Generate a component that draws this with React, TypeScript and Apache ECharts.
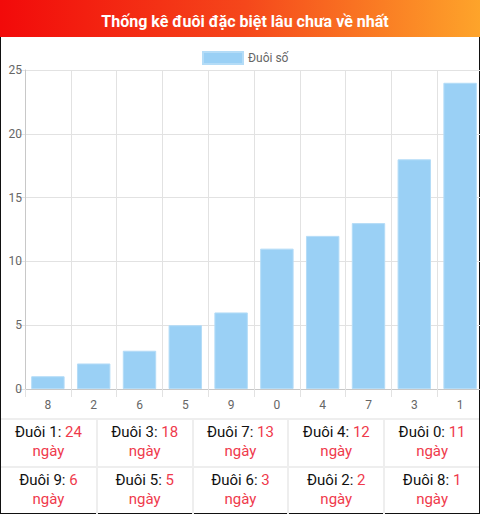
import { useEffect, useRef } from 'react';
import * as echarts from 'echarts';

const TITLE = 'Thống kê đuôi đặc biệt lâu chưa về nhất';
const SERIES_NAME = 'Đuôi số';
const tails = ['8', '2', '6', '5', '9', '0', '4', '7', '3', '1'];
const days = [1, 2, 3, 5, 6, 11, 12, 13, 18, 24];
const yTicks = [0, 5, 10, 15, 20, 25];

const FONT = 'Roboto, "Noto Sans", sans-serif';
const RED = '#ef3a4c';

export default function App() {
  const chartRef = useRef<HTMLDivElement | null>(null);

  useEffect(() => {
    document.body.style.margin = '0';
    if (!chartRef.current) return;
    const chart = echarts.init(chartRef.current, null, { renderer: 'svg' });

    chart.setOption({
      animation: false,
      textStyle: { fontFamily: FONT },
      graphic: [
        {
          type: 'rect',
          z: 0,
          shape: { x: 0, y: 0, width: 490, height: 37 },
          style: {
            fill: new echarts.graphic.LinearGradient(0, 0, 1, 0, [
              { offset: 0, color: '#f20a0a' },
              { offset: 0.5, color: '#f5471b' },
              { offset: 1, color: '#fea82b' },
            ]),
          },
        },
      ],
      title: {
        text: TITLE,
        left: 240,
        top: 8,
        textAlign: 'center',
        textStyle: { color: '#fff', fontSize: 16, fontWeight: 'bold', fontFamily: FONT },
      },
      legend: {
        top: 46,
        left: 197,
        icon: 'rect',
        itemWidth: 40,
        itemHeight: 12,
        textStyle: { color: '#666', fontSize: 12, fontFamily: FONT },
        data: [SERIES_NAME],
      },
      grid: { left: 25, right: 7, top: 70, bottom: 29 },
      xAxis: {
        type: 'category',
        data: tails,
        axisLine: { lineStyle: { color: '#c8c8c8' } },
        axisTick: { show: true, length: 8, lineStyle: { color: '#e2e2e2' } },
        axisLabel: { color: '#666', fontSize: 12, margin: 10, fontFamily: FONT },
        splitLine: { show: true, lineStyle: { color: '#e2e2e2' } },
      },
      yAxis: {
        type: 'value',
        min: yTicks[0],
        max: yTicks[yTicks.length - 1],
        interval: 5,
        axisLine: { show: true, lineStyle: { color: '#c8c8c8' } },
        axisTick: { show: true, length: 8, lineStyle: { color: '#e2e2e2' } },
        axisLabel: { color: '#666', fontSize: 12, margin: 3, fontFamily: FONT },
        splitLine: { show: true, lineStyle: { color: '#e2e2e2' } },
      },
      series: [
        {
          name: SERIES_NAME,
          type: 'bar',
          data: days,
          barCategoryGap: '27%',
          itemStyle: { color: '#9ad0f5', borderColor: '#b4dcf7', borderWidth: 1 },
        },
      ],
    });

    return () => chart.dispose();
  }, []);

  const ranked = tails
    .map((t, i) => ({ t, d: days[i] }))
    .sort((a, b) => b.d - a.d);
  const rows = [ranked.slice(0, 5), ranked.slice(5, 10)];

  return (
    <div
      style={{
        position: 'relative',
        width: 480,
        height: 514,
        overflow: 'hidden',
        background: '#fff',
        fontFamily: FONT,
      }}
    >
      <div
        style={{
          position: 'absolute',
          inset: 0,
          border: '1px solid #111',
          boxSizing: 'border-box',
        }}
      />
      <div
        ref={chartRef}
        style={{ position: 'absolute', left: 0, top: 0, width: 490, height: 418 }}
      />
      <div style={{ position: 'absolute', left: 1, top: 418, width: 478, height: 95 }}>
        {rows.map((row, r) => (
          <div key={r} style={{ display: 'flex', height: 48 }}>
            {row.map((c, i) => (
              <div
                key={c.t}
                style={{
                  width: i === 0 ? 95 : 96,
                  boxSizing: 'border-box',
                  borderTop: '2px solid #eeeeee',
                  borderLeft: i === 0 ? 'none' : '2px solid #eeeeee',
                  textAlign: 'center',
                  fontSize: 15,
                  lineHeight: '19px',
                  paddingTop: 3,
                  color: '#111',
                }}
              >
                <div>
                  Đuôi {c.t}: <span style={{ color: RED }}>{c.d}</span>
                </div>
                <div style={{ color: RED }}>ngày</div>
              </div>
            ))}
          </div>
        ))}
      </div>
    </div>
  );
}
